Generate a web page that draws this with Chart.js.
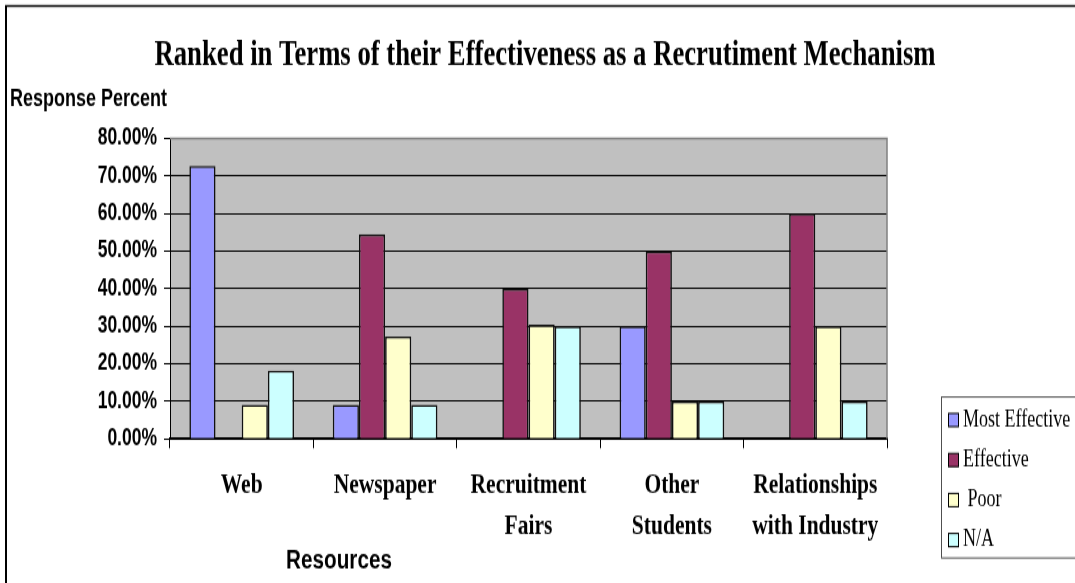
<!DOCTYPE html>
<html lang="en">
<head>
<meta charset="UTF-8">
<title>Recruitment Mechanisms</title>
<script src="https://cdn.jsdelivr.net/npm/chart.js"></script>
<style>
  html, body { margin: 0; background: #fff; }
  #page { width: 1075px; height: 583px; overflow: hidden; position: relative; }
  /* the chart is drawn at 1075x440 and stretched tall, like the old exported sheet */
  #wrap { position: absolute; left: 0; top: 0; width: 1075px; height: 440px; transform: scaleY(1.325); transform-origin: 0 0; }
</style>
</head>
<body>
<div id="page"><div id="wrap"><canvas id="chart" width="1075" height="440"></canvas></div></div>
<script>
const categories = [['Web'], ['Newspaper'], ['Recruitment', 'Fairs'], ['Other', 'Students'], ['Relationships', 'with Industry']];
const seriesNames = ['Most Effective', 'Effective', ' Poor', 'N/A'];
const mostEffective = [72.7, 9.1, 0, 30, 0];
const effective = [0, 54.5, 40, 50, 60];
const poor = [9.1, 27.3, 30.4, 10, 30];
const notApplicable = [18.2, 9.1, 30, 10, 10];
const yTicks = [0, 10, 20, 30, 40, 50, 60, 70, 80];

const colors = ['#9999ff', '#993366', '#ffffcc', '#ccffff'];
const series = [mostEffective, effective, poor, notApplicable];

// grey plot area, frame, title, axis captions and the boxed legend
const sheet = {
  id: 'sheet',
  beforeDraw(chart) {
    const { ctx, chartArea: a } = chart;
    ctx.save();
    ctx.fillStyle = '#c0c0c0';
    ctx.fillRect(a.left, a.top, a.right - a.left, a.bottom - a.top);
    ctx.restore();
  },
  afterDraw(chart) {
    const { ctx, chartArea: a } = chart;
    ctx.save();

    ctx.strokeStyle = '#808080';
    ctx.lineWidth = 1.5;
    ctx.beginPath();
    ctx.moveTo(a.left, a.top);
    ctx.lineTo(a.right, a.top);
    ctx.lineTo(a.right, a.bottom);
    ctx.stroke();

    // outer border (left and top only show)
    ctx.strokeStyle = '#000';
    ctx.lineWidth = 2;
    ctx.beginPath();
    ctx.moveTo(6, 460);
    ctx.lineTo(6, 4);
    ctx.stroke();
    ctx.lineWidth = 1.5;
    ctx.beginPath();
    ctx.moveTo(5, 4.5);
    ctx.lineTo(1080, 4.5);
    ctx.stroke();

    ctx.fillStyle = '#000';
    ctx.textBaseline = 'alphabetic';
    ctx.textAlign = 'center';
    ctx.font = 'bold 26.7px "Liberation Serif"';
    ctx.fillText('Ranked in Terms of their Effectiveness as a Recrutiment Mechanism', 545, 49);

    ctx.font = 'bold 20.7px "Liberation Sans"';
    ctx.fillText('Resources', 339, 428.7);

    ctx.textAlign = 'left';
    ctx.font = 'bold 18px "Liberation Sans"';
    ctx.fillText('Response Percent', 10, 80);

    // legend
    const top = 299.6, bottom = 421.1;
    ctx.strokeStyle = '#505050';
    ctx.lineWidth = 1;
    ctx.strokeRect(941.5, top, 200, bottom - top);
    ctx.font = '18px "Liberation Serif"';
    ctx.textBaseline = 'middle';
    chart.data.datasets.forEach((ds, i) => {
      const cy = 317 + i * 30.2;
      ctx.fillStyle = ds.backgroundColor;
      ctx.fillRect(948, cy - 5, 10, 10);
      ctx.strokeStyle = '#000';
      ctx.strokeRect(948.5, cy - 5, 10, 10);
      ctx.fillStyle = '#000';
      ctx.fillText(ds.label, 963, cy);
    });
    ctx.restore();
  }
};

new Chart(document.getElementById('chart'), {
  type: 'bar',
  data: {
    labels: categories,
    datasets: series.map((data, i) => ({
      label: seriesNames[i],
      data: data,
      backgroundColor: colors[i],
      borderColor: '#111',
      // empty bars get no outline stub on the axis
      borderWidth: c => (c.raw === 0 ? 0 : 1.6),
      categoryPercentage: 0.73,
      barPercentage: 1
    }))
  },
  options: {
    responsive: false,
    animation: false,
    layout: { padding: { top: 104.5, right: 188, bottom: 0, left: 0 } },
    plugins: {
      legend: { display: false },
      title: { display: false },
      tooltip: { enabled: false }
    },
    scales: {
      x: {
        grid: { display: true, drawOnChartArea: false, drawTicks: true, tickLength: 7, color: '#000' },
        border: { display: true, color: '#000', width: 2 },
        ticks: {
          color: '#000',
          padding: 13,
          maxRotation: 0,
          autoSkip: false,
          font: { family: 'Liberation Serif', weight: 'bold', size: 21.5, lineHeight: 1.44 }
        },
        afterFit: s => { s.height = 108.7; }
      },
      y: {
        min: 0,
        max: 80,
        afterBuildTicks: s => { s.ticks = yTicks.map(v => ({ value: v })); },
        grid: { color: '#000', lineWidth: 1, tickLength: 6 },
        border: { display: true, color: '#000', width: 1 },
        ticks: {
          color: '#000',
          padding: 7,
          font: { family: 'Liberation Sans', weight: 'bold', size: 17.5 },
          callback: v => v.toFixed(2) + '%'
        },
        afterFit: s => { s.width = 170; }
      }
    }
  },
  plugins: [sheet]
});
</script>
</body>
</html>
